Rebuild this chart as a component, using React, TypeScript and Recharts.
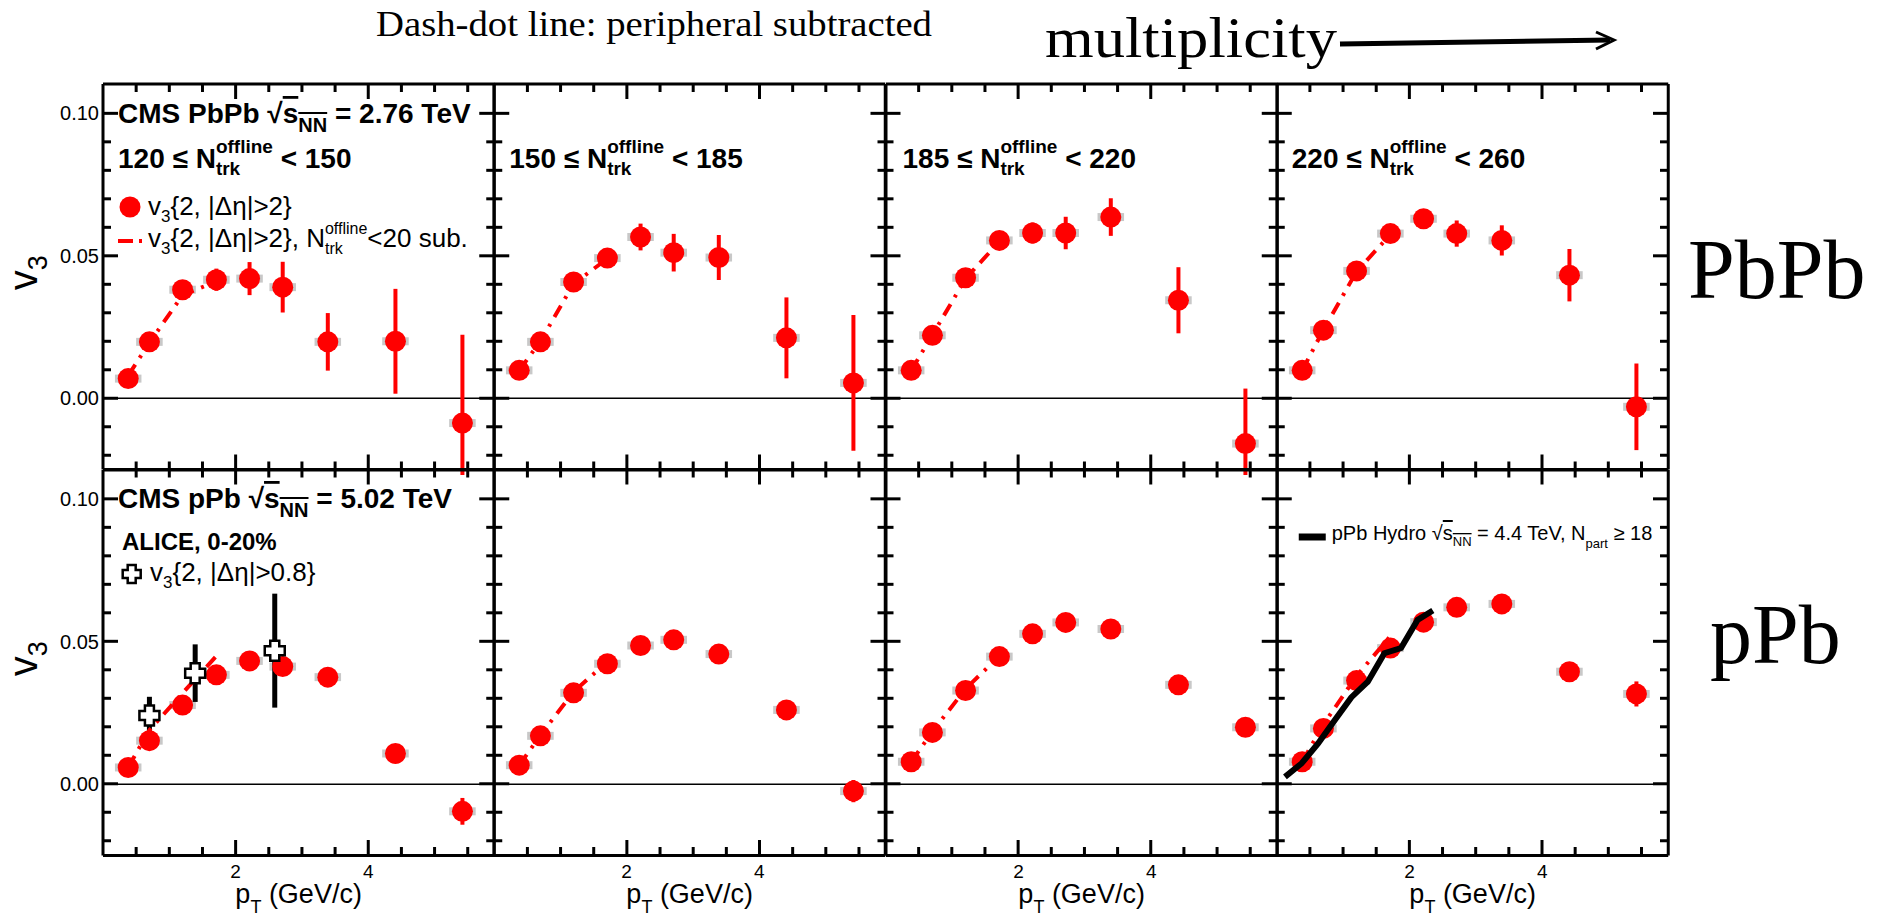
import React from 'react';
import { ComposedChart, Scatter, XAxis, YAxis, ErrorBar, ReferenceLine } from 'recharts';

const FONT = "'Liberation Sans', Arial, Helvetica, sans-serif";
const SERIF = "'Liberation Serif', 'Times New Roman', Times, serif";
const RED = '#ff0000';
const SYS_GREY = '#c8c8c8';

// ---------- data ----------
const pTBins = [0.38, 0.70, 1.20, 1.71, 2.21, 2.71, 3.39, 4.41, 5.42];
const pTSysHalfWidth = 0.2;
const pTSubtracted = [0.38, 0.70, 1.20, 1.71];

const pbpb120V3 = [0.0069, 0.0198, 0.0381, 0.0416, 0.0420, 0.0390, 0.0198, 0.0200, -0.0087];
const pbpb120Err = [0.0008, 0.0012, 0.0020, 0.0039, 0.0058, 0.0089, 0.0101, 0.0184, 0.0310];
const pbpb120Sub = [0.0080, 0.0195, 0.0362, 0.0410];

const pbpb150V3 = [0.0098, 0.0198, 0.0408, 0.0492, 0.0566, 0.0511, 0.0494, 0.0212, 0.0054];
const pbpb150Err = [0.0008, 0.0012, 0.0020, 0.0028, 0.0047, 0.0066, 0.0079, 0.0142, 0.0238];
const pbpb150Sub = [0.0098, 0.0200, 0.0402, 0.0490];

const pbpb185V3 = [0.0098, 0.0221, 0.0423, 0.0554, 0.0580, 0.0580, 0.0636, 0.0344, -0.0159];
const pbpb185Err = [0.0008, 0.0012, 0.0020, 0.0028, 0.0037, 0.0057, 0.0066, 0.0116, 0.0193];
const pbpb185Sub = [0.0098, 0.0222, 0.0420, 0.0550];

const pbpb220V3 = [0.0098, 0.0239, 0.0447, 0.0578, 0.0630, 0.0578, 0.0554, 0.0432, -0.0030];
const pbpb220Err = [0.0008, 0.0012, 0.0018, 0.0025, 0.0032, 0.0046, 0.0053, 0.0092, 0.0152];
const pbpb220Sub = [0.0098, 0.0240, 0.0445, 0.0575];

const ppb120V3 = [0.0059, 0.0153, 0.0278, 0.0384, 0.0433, 0.0413, 0.0376, 0.0108, -0.0095];
const ppb120Err = [0.0004, 0.0005, 0.0007, 0.0008, 0.0010, 0.0012, 0.0015, 0.0022, 0.0047];
const ppb120Sub = [0.0060, 0.0190, 0.0320, 0.0450];

const ppb150V3 = [0.0067, 0.0170, 0.0321, 0.0423, 0.0487, 0.0507, 0.0457, 0.0261, -0.0024];
const ppb150Err = [0.0004, 0.0005, 0.0007, 0.0008, 0.0010, 0.0012, 0.0015, 0.0022, 0.0039];
const ppb150Sub = [0.0067, 0.0172, 0.0325, 0.0430];

const ppb185V3 = [0.0079, 0.0182, 0.0329, 0.0448, 0.0528, 0.0568, 0.0545, 0.0349, 0.0200];
const ppb185Err = [0.0004, 0.0005, 0.0007, 0.0008, 0.0010, 0.0012, 0.0015, 0.0020, 0.0025];
const ppb185Sub = [0.0079, 0.0185, 0.0335, 0.0450];

const ppb220V3 = [0.0079, 0.0196, 0.0364, 0.0478, 0.0569, 0.0621, 0.0633, 0.0395, 0.0317];
const ppb220Err = [0.0004, 0.0005, 0.0007, 0.0008, 0.0010, 0.0012, 0.0015, 0.0022, 0.0044];
const ppb220Sub = [0.0079, 0.0210, 0.0380, 0.0520];

const alicePt = [0.70, 1.39, 2.59];
const aliceV3 = [0.0241, 0.0390, 0.0469];
const aliceErr = [0.0066, 0.0101, 0.0200];

const hydroPt = [0.12, 0.37, 0.62, 0.87, 1.12, 1.37, 1.62, 1.87, 2.12, 2.35];
const hydroV3 = [0.0026, 0.0073, 0.0143, 0.0225, 0.0305, 0.0360, 0.0460, 0.0478, 0.0577, 0.0610];

const xTicks = [0, 0.5, 1, 1.5, 2, 2.5, 3, 3.5, 4, 4.5, 5, 5.5];
const yTicks = [-0.02, -0.01, 0, 0.01, 0.02, 0.03, 0.04, 0.05, 0.06, 0.07, 0.08, 0.09, 0.1];
const xDomain = [0, 5.9];
const yDomain = [-0.025, 0.1103];

const nTrkLow = ['120', '150', '185', '220'];
const nTrkHigh = ['150', '185', '220', '260'];

// ---------- layout ----------
const PW = 391.25;
const PH = 385.5;
const X0 = 103;
const Y0 = 84;
const M = 4;
const THIN = 1;

const measure = (text: string, font: string, fallback: number) => {
  try {
    const ctx = document.createElement('canvas').getContext('2d');
    if (!ctx) return fallback;
    ctx.font = font;
    return ctx.measureText(text).width;
  } catch (e) {
    return fallback;
  }
};

const isMajorX = (v: number) => Math.abs(v - 2 * Math.round(v / 2)) < 1e-6;
const isMajorY = (v: number) => Math.round(v * 1000) % 50 === 0;

const TICK_W = 3;
const MAJOR_LEN = 15;
const MINOR_LEN = 8;

// axis tick labels (drawn by Recharts axes)
const xTickLabel = (showLabel: boolean) => (props: any) => {
  const { x, y, payload } = props;
  const v = payload.value;
  if (!showLabel || v <= 0.001 || !isMajorX(v)) return <g />;
  return (
    <text x={x} y={y + 22} textAnchor="middle" fontFamily={FONT} fontSize={19} fill="#000">
      {String(v)}
    </text>
  );
};

const yTickLabel = (showLabel: boolean) => (props: any) => {
  const { x, y, payload } = props;
  const v = payload.value;
  if (!showLabel || !isMajorY(v)) return <g />;
  return (
    <text x={x - 4} y={y + 7} textAnchor="end" fontFamily={FONT} fontSize={20} fill="#000">
      {v.toFixed(2)}
    </text>
  );
};

const circleShape = (p: any) => <circle cx={p.cx} cy={p.cy} r={10.5} fill={RED} />;
const emptyShape = () => <g />;
const crossPath = (cx: number, cy: number, a: number, b: number) =>
  `M${cx - b},${cy - a}H${cx + b}V${cy - b}H${cx + a}V${cy + b}H${cx + b}V${cy + a}H${cx - b}V${cy + b}H${cx - a}V${cy - b}H${cx - b}Z`;
const crossShape = (p: any) => (
  <path d={crossPath(p.cx, p.cy, 10, 4.5)} fill="#fff" stroke="#000" strokeWidth={2.5} />
);

type PanelDef = {
  col: number;
  row: number;
  v3: number[];
  err: number[];
  sub: number[];
};

const panels: PanelDef[] = [
  { col: 0, row: 0, v3: pbpb120V3, err: pbpb120Err, sub: pbpb120Sub },
  { col: 1, row: 0, v3: pbpb150V3, err: pbpb150Err, sub: pbpb150Sub },
  { col: 2, row: 0, v3: pbpb185V3, err: pbpb185Err, sub: pbpb185Sub },
  { col: 3, row: 0, v3: pbpb220V3, err: pbpb220Err, sub: pbpb220Sub },
  { col: 0, row: 1, v3: ppb120V3, err: ppb120Err, sub: ppb120Sub },
  { col: 1, row: 1, v3: ppb150V3, err: ppb150Err, sub: ppb150Sub },
  { col: 2, row: 1, v3: ppb185V3, err: ppb185Err, sub: ppb185Sub },
  { col: 3, row: 1, v3: ppb220V3, err: ppb220Err, sub: ppb220Sub },
];

const frameLine = { stroke: '#000', strokeWidth: 3 };

function Panel({ def }: { def: PanelDef }) {
  const { col, row } = def;
  const yWL = col === 0 ? 100 : THIN;
  const yWR = THIN;
  const xHT = THIN;
  const xHB = row === 1 ? 80 : THIN;
  const plotLeft = X0 + col * PW;
  const plotTop = Y0 + row * PH;
  const width = 2 * M + yWL + PW + yWR;
  const height = 2 * M + xHT + PH + xHB;
  const pts = pTBins.map((x, i) => ({ x, y: def.v3[i], err: def.err[i], sx: pTSysHalfWidth }));
  const subPts = pTSubtracted.map((x, i) => ({ x, y: def.sub[i] }));
  const alicePts = alicePt.map((x, i) => ({ x, y: aliceV3[i], err: aliceErr[i] }));
  const hydroPts = hydroPt.map((x, i) => ({ x, y: hydroV3[i] }));

  const yTitle = () => {
    const cx = M + yWL - (X0 - 36.7);
    const cy = M + xHT + PH / 2 - 4;
    return (
      <text
        x={cx}
        y={cy}
        transform={`rotate(-90, ${cx}, ${cy})`}
        textAnchor="middle"
        fontFamily={FONT}
        fontSize={40}
        fill="#000"
      >
        v<tspan fontSize={27} dy={10}>3</tspan>
      </text>
    );
  };
  const xTitle = () => {
    const cx = M + yWL + PW / 2;
    const cy = M + xHT + PH + 47;
    return (
      <text x={cx} y={cy} textAnchor="middle" fontFamily={FONT} fontSize={27} fill="#000">
        p<tspan fontSize={18} dy={10}>T</tspan>
        <tspan dy={-10}> (GeV/c)</tspan>
      </text>
    );
  };

  return (
    <div style={{ position: 'absolute', left: plotLeft - M - yWL, top: plotTop - M - xHT }}>
      <ComposedChart width={width} height={height} margin={{ top: M, right: M, bottom: M, left: M }}>
        <ReferenceLine y={0} stroke="#000" strokeWidth={1.3} />
        <Scatter
          data={subPts}
          shape={emptyShape}
          line={{ stroke: RED, strokeWidth: 4, strokeDasharray: '13 8 3 8', fill: 'none' }}
          isAnimationActive={false}
        />
        <Scatter data={pts} shape={circleShape} fill={RED} isAnimationActive={false}>
          <ErrorBar dataKey="sx" direction="x" width={0} stroke={SYS_GREY} strokeWidth={8} />
          <ErrorBar dataKey="err" direction="y" width={0} stroke={RED} strokeWidth={4} />
        </Scatter>
        {col === 0 && row === 1 ? (
          <Scatter data={alicePts} shape={crossShape} fill="#000" isAnimationActive={false}>
            <ErrorBar dataKey="err" direction="y" width={0} stroke="#000" strokeWidth={5} />
          </Scatter>
        ) : null}
        {col === 3 && row === 1 ? (
          <Scatter
            data={hydroPts}
            shape={emptyShape}
            line={{ stroke: '#000', strokeWidth: 6, fill: 'none' }}
            isAnimationActive={false}
          />
        ) : null}
        <XAxis
          dataKey="x"
          type="number"
          domain={xDomain}
          allowDataOverflow
          ticks={xTicks}
          interval={0}
          height={xHB}
          tickSize={0}
          tickMargin={0}
          tickLine={false}
          axisLine={frameLine}
          tick={xTickLabel(row === 1)}
          label={row === 1 ? xTitle : undefined}
        />
        <XAxis
          xAxisId="top"
          orientation="top"
          dataKey="x"
          type="number"
          domain={xDomain}
          allowDataOverflow
          ticks={xTicks}
          interval={0}
          height={xHT}
          tickSize={0}
          tickMargin={0}
          tickLine={false}
          axisLine={frameLine}
          tick={false}
        />
        <YAxis
          dataKey="y"
          type="number"
          domain={yDomain}
          allowDataOverflow
          ticks={yTicks}
          interval={0}
          width={yWL}
          tickSize={0}
          tickMargin={0}
          tickLine={false}
          axisLine={frameLine}
          tick={yTickLabel(col === 0)}
          label={col === 0 ? yTitle : undefined}
        />
        <YAxis
          yAxisId="right"
          orientation="right"
          dataKey="y"
          type="number"
          domain={yDomain}
          allowDataOverflow
          ticks={yTicks}
          interval={0}
          width={yWR}
          tickSize={0}
          tickMargin={0}
          tickLine={false}
          axisLine={frameLine}
          tick={false}
        />
      </ComposedChart>
    </div>
  );
}

// inward ROOT-style tick marks on all four sides of every pad
function PadTicks({ col, row }: { col: number; row: number }) {
  const left = X0 + col * PW;
  const right = left + PW;
  const top = Y0 + row * PH;
  const bottom = top + PH;
  const sx = (v: number) => left + ((v - xDomain[0]) / (xDomain[1] - xDomain[0])) * PW;
  const sy = (v: number) => top + ((yDomain[1] - v) / (yDomain[1] - yDomain[0])) * PH;
  const marks: React.ReactNode[] = [];
  xTicks
    .filter((v) => v > 0.001)
    .forEach((v) => {
      const len = isMajorX(v) ? MAJOR_LEN : MINOR_LEN;
      const x = sx(v);
      marks.push(<line key={`b${v}`} x1={x} x2={x} y1={bottom} y2={bottom - len} stroke="#000" strokeWidth={TICK_W} />);
      marks.push(<line key={`t${v}`} x1={x} x2={x} y1={top} y2={top + len} stroke="#000" strokeWidth={TICK_W} />);
    });
  yTicks.forEach((v) => {
    const len = isMajorY(v) ? MAJOR_LEN : MINOR_LEN;
    const y = sy(v);
    marks.push(<line key={`l${v}`} x1={left} x2={left + len} y1={y} y2={y} stroke="#000" strokeWidth={TICK_W} />);
    marks.push(<line key={`r${v}`} x1={right} x2={right - len} y1={y} y2={y} stroke="#000" strokeWidth={TICK_W} />);
  });
  return <g>{marks}</g>;
}

function NtrkRange({ x, y, lo, hi }: { x: number; y: number; lo: string; hi: string }) {
  const sfs = 19;
  const wo = measure('offline', `bold ${sfs}px ${FONT}`, 57);
  const wt = measure('trk', `bold ${sfs}px ${FONT}`, 24);
  return (
    <text x={x} y={y} fontFamily={FONT} fontWeight="bold" fontSize={28} fill="#000">
      {`${lo} \u2264 N`}
      <tspan fontSize={sfs} dy={-15}>offline</tspan>
      <tspan fontSize={sfs} dx={-wo} dy={22}>trk</tspan>
      <tspan dx={wo - wt} dy={-7}>{` < ${hi}`}</tspan>
    </text>
  );
}

function Overlay() {
  const lfs = 16;
  const wo = measure('offline', `${lfs}px ${FONT}`, 43);
  const wt = measure('trk', `${lfs}px ${FONT}`, 18);
  const hydroX = X0 + 3 * PW;
  return (
    <svg
      width={1883}
      height={919}
      style={{ position: 'absolute', left: 0, top: 0, pointerEvents: 'none' }}
    >
      {panels.map((p) => (
        <PadTicks key={`ticks-${p.col}-${p.row}`} col={p.col} row={p.row} />
      ))}

      {/* header */}
      <text x={376} y={36} fontFamily={SERIF} fontSize={36} textLength={556} lengthAdjust="spacingAndGlyphs" fill="#000">
        Dash-dot line: peripheral subtracted
      </text>
      <text x={1045} y={57} fontFamily={SERIF} fontSize={58} textLength={292} lengthAdjust="spacingAndGlyphs" fill="#000">
        multiplicity
      </text>
      <line x1={1340} y1={44} x2={1610} y2={40} stroke="#000" strokeWidth={5} />
      <polyline points="1596,32 1614,40 1596,49" fill="none" stroke="#000" strokeWidth={3} />
      <text x={1688} y={298} fontFamily={SERIF} fontSize={84} fill="#000">PbPb</text>
      <text x={1710} y={663} fontFamily={SERIF} fontSize={84} fill="#000">pPb</text>

      {/* top-left panel texts */}
      <text x={118} y={123} fontFamily={FONT} fontWeight="bold" fontSize={28} fill="#000">
        {'CMS PbPb \u221A'}
        <tspan style={{ textDecoration: 'overline' }}>s</tspan>
        <tspan fontSize={20} dy={9} style={{ textDecoration: 'overline' }}>NN</tspan>
        <tspan dy={-9}> = 2.76 TeV</tspan>
      </text>
      {nTrkLow.map((lo, i) => (
        <NtrkRange key={lo} x={X0 + i * PW + 15 + (i === 2 ? 2 : 0)} y={168} lo={lo} hi={nTrkHigh[i]} />
      ))}
      <circle cx={130} cy={207} r={10.5} fill={RED} />
      <text x={148} y={215} fontFamily={FONT} fontSize={26} fill="#000">
        v<tspan fontSize={17} dy={7}>3</tspan>
        <tspan dy={-7}>{'{2, |\u0394\u03B7|>2}'}</tspan>
      </text>
      <line x1={118} y1={241} x2={146} y2={241} stroke={RED} strokeWidth={4} strokeDasharray="15 6 3 8" />
      <text x={148} y={247} fontFamily={FONT} fontSize={26} fill="#000">
        v<tspan fontSize={17} dy={7}>3</tspan>
        <tspan dy={-7}>{'{2, |\u0394\u03B7|>2}, N'}</tspan>
        <tspan fontSize={lfs} dy={-13}>offline</tspan>
        <tspan fontSize={lfs} dx={-wo} dy={20}>trk</tspan>
        <tspan dx={wo - wt} dy={-7}>{'<20 sub.'}</tspan>
      </text>

      {/* bottom-left panel texts */}
      <text x={118} y={508} fontFamily={FONT} fontWeight="bold" fontSize={28} fill="#000">
        {'CMS pPb \u221A'}
        <tspan style={{ textDecoration: 'overline' }}>s</tspan>
        <tspan fontSize={20} dy={9} style={{ textDecoration: 'overline' }}>NN</tspan>
        <tspan dy={-9}> = 5.02 TeV</tspan>
      </text>
      <text x={122} y={550} fontFamily={FONT} fontWeight="bold" fontSize={24} fill="#000">
        ALICE, 0-20%
      </text>
      <path d={crossPath(131.7, 574, 9, 4)} fill="#fff" stroke="#000" strokeWidth={2.5} />
      <text x={150} y={581} fontFamily={FONT} fontSize={26} fill="#000">
        v<tspan fontSize={17} dy={7}>3</tspan>
        <tspan dy={-7}>{'{2, |\u0394\u03B7|>0.8}'}</tspan>
      </text>

      {/* bottom-right hydro legend */}
      <line x1={hydroX + 22} y1={537} x2={hydroX + 49} y2={537} stroke="#000" strokeWidth={7} />
      <text x={hydroX + 55} y={540} fontFamily={FONT} fontSize={20} fill="#000">
        {'pPb Hydro \u221A'}
        <tspan style={{ textDecoration: 'overline' }}>s</tspan>
        <tspan fontSize={13} dy={6} style={{ textDecoration: 'overline' }}>NN</tspan>
        <tspan dy={-6}>{' = 4.4 TeV, N'}</tspan>
        <tspan fontSize={13} dy={8}>part</tspan>
        <tspan dy={-8}>{' \u2265 18'}</tspan>
      </text>
    </svg>
  );
}

export default function App() {
  return (
    <div
      style={{
        position: 'absolute',
        left: 0,
        top: 0,
        width: 1883,
        height: 919,
        background: '#fff',
        overflow: 'hidden',
      }}
    >
      {panels.map((p) => (
        <Panel key={`${p.col}-${p.row}`} def={p} />
      ))}
      <Overlay />
    </div>
  );
}
